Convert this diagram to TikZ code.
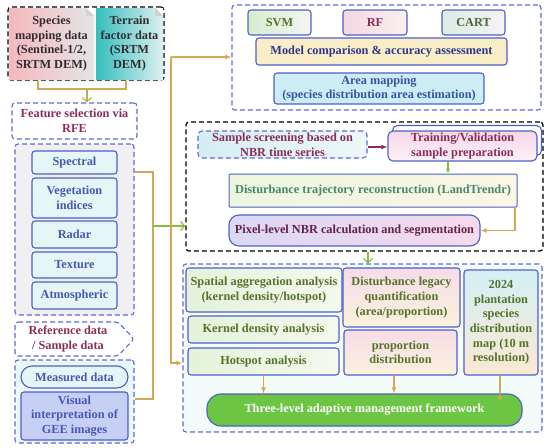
\documentclass[tikz,border=0pt]{standalone}
\usepackage{fontspec}
\setmainfont{Liberation Serif}
\usetikzlibrary{arrows.meta,calc}
\definecolor{bord}{RGB}{80,95,200}
\definecolor{dblue}{RGB}{95,105,215}
\definecolor{maroon}{RGB}{138,45,90}
\definecolor{tblue}{RGB}{70,88,180}
\definecolor{tgreen}{RGB}{85,115,45}
\definecolor{oline}{RGB}{210,170,85}
\definecolor{gline}{RGB}{135,190,60}
\definecolor{cyanbox}{RGB}{230,245,246}
\definecolor{grayfill}{RGB}{240,240,243}
\definecolor{lavbox}{RGB}{200,207,245}
\begin{document}
\begin{tikzpicture}[x=1pt,y=-1pt,
  txt/.style={align=center,font=\bfseries\fontsize{12.3}{14.6}\selectfont,inner sep=1pt},
  bx/.style={txt,draw=bord,line width=1.1pt,rounded corners=3pt},
  grp/.style={draw=dblue,line width=1.1pt,rounded corners=3pt,dash pattern=on 5pt off 3pt,inner sep=0pt},
  blk/.style={draw=black,line width=1.2pt,rounded corners=3pt,dash pattern=on 5pt off 3pt,inner sep=0pt},
  ol/.style={draw=oline,line width=1.2pt},
  oarr/.style={ol,-{Latex[length=6pt,width=5pt]}},
  garr/.style={draw=gline,line width=1.2pt,-{Straight Barb[length=4pt,width=9pt]}},
]
\useasboundingbox (0,0) rectangle (550,448);
\fill[white] (0,0) rectangle (550,448);

% ---------- groups ----------
\node[blk,fill=white,minimum width=156,minimum height=73] (datagrp) at (86,43.5) {};
\node[grp,fill=white,minimum width=125,minimum height=36,text=maroon,txt] (rfe) at (74.5,121) {Feature selection via\\RFE};
\node[grp,fill=grayfill,minimum width=119,minimum height=171] (featgrp) at (74.5,229.5) {};
\node[grp,fill={rgb,255:red,236;green,247;blue,250},minimum width=119,minimum height=83] (sampgrp) at (74.5,401.5) {};
\node[grp,fill=white,minimum width=309,minimum height=105] (topgrp) at (386.5,57.5) {};
\node[blk,fill=white,minimum width=357,minimum height=129] (blackgrp) at (364.5,186.5) {};
\node[grp,fill={rgb,255:red,243;green,251;blue,251},minimum width=359,minimum height=168] (botgrp) at (362.5,348) {};

% ---------- data boxes ----------
\node[txt,left color={rgb,255:red,245;green,185;blue,190},right color={rgb,255:red,228;green,228;blue,230},minimum width=85,minimum height=71,text={rgb,255:red,50;green,45;blue,50}] (species) at (51.5,43.5) {Species\\mapping data\\(Sentinel-1/2,\\SRTM DEM)};
\node[txt,left color={rgb,255:red,55;green,190;blue,190},right color={rgb,255:red,222;green,240;blue,240},minimum width=67,minimum height=71,text={rgb,255:red,50;green,45;blue,50}] (terrain) at (129.5,43.5) {Terrain\\factor data\\(SRTM\\DEM)};
\foreach \n in {species,terrain}{
  \fill[white] ($(\n.north east)+(-8,0)$) -- (\n.north east) -- ($(\n.north east)+(0,8)$) -- cycle;
  \fill[gray!35] ($(\n.north east)+(-8,0)$) -- ($(\n.north east)+(0,8)$) -- ($(\n.north east)+(-8,8)$) -- cycle;
}

% ---------- features ----------
\begin{scope}[every node/.style={bx,fill=cyanbox,text=tblue,minimum width=85}]
\node[minimum height=23] (spec) at (74.5,162.5) {Spectral};
\node[minimum height=40] (veg) at (74.5,198) {Vegetation\\indices};
\node[minimum height=27] (radar) at (74.5,234.5) {Radar};
\node[minimum height=26] (tex) at (74.5,265) {Texture};
\node[minimum height=27] (atm) at (74.5,295.5) {Atmospheric};
\end{scope}

% ---------- reference ----------
\draw[grp,fill=white] (15,322) -- (118,322) -- (134,339) -- (118,356) -- (15,356) -- cycle;
\node[txt,text=maroon] (ref) at (68,339) {Reference data\\/ Sample data};
\node[bx,fill=cyanbox,text=tblue,minimum width=107,minimum height=22,rounded corners=11pt] (meas) at (74.5,377) {Measured data};
\node[bx,fill=lavbox,text=tblue,minimum width=107,minimum height=48] (vis) at (74.5,416) {Visual\\interpretation of\\GEE images};

% ---------- top right ----------
\node[bx,left color={rgb,255:red,215;green,238;blue,205},right color={rgb,255:red,245;green,245;blue,245},text=tgreen,minimum width=63,minimum height=25] (svm) at (279.5,22.5) {SVM};
\node[bx,left color={rgb,255:red,245;green,215;blue,225},right color={rgb,255:red,250;green,240;blue,240},text=maroon,minimum width=64,minimum height=25] (rf) at (375,22.5) {RF};
\node[bx,left color={rgb,255:red,220;green,236;blue,228},right color={rgb,255:red,244;green,244;blue,244},text={rgb,255:red,80;green,100;blue,60},minimum width=63,minimum height=25] (cart) at (473.5,22.5) {CART};
\node[bx,fill={rgb,255:red,250;green,238;blue,200},text={rgb,255:red,45;green,55;blue,140},minimum width=251,minimum height=27] (model) at (381.5,51.5) {Model comparison \& accuracy assessment};
\node[bx,fill={rgb,255:red,205;green,236;blue,246},text={rgb,255:red,55;green,85;blue,160},minimum width=210,minimum height=31] (area) at (379,88.5) {Area mapping\\(species distribution area estimation)};

% ---------- middle ----------
\node[grp,txt,rounded corners=4pt,left color={rgb,255:red,212;green,238;blue,244},right color={rgb,255:red,238;green,248;blue,250},text=maroon,minimum width=169,minimum height=27] (screen) at (282.5,144.5) {Sample screening based on\\NBR time series};
\node[bx,rounded corners=5pt,fill=white,minimum width=149,minimum height=30] (trainbk) at (467,140.5) {};
\node[bx,rounded corners=5pt,top color={rgb,255:red,246;green,215;blue,230},bottom color={rgb,255:red,252;green,242;blue,248},text=maroon,minimum width=149,minimum height=30] (train) at (462.5,146) {Training/Validation\\sample preparation};
\node[bx,rounded corners=1pt,line width=1pt,left color={rgb,255:red,236;green,246;blue,222},right color={rgb,255:red,252;green,246;blue,230},text={rgb,255:red,70;green,135;blue,110},minimum width=288,minimum height=33] (dist) at (373,190.5) {Disturbance trajectory reconstruction (LandTrendr)};
\node[bx,rounded corners=10pt,left color={rgb,255:red,218;green,216;blue,246},right color={rgb,255:red,246;green,218;blue,236},text={rgb,255:red,100;green,35;blue,70},minimum width=251,minimum height=31] (pixel) at (354.5,230.5) {Pixel-level NBR calculation and segmentation};

% ---------- bottom ----------
\begin{scope}[every node/.style={bx,left color={rgb,255:red,228;green,243;blue,218},right color={rgb,255:red,244;green,249;blue,238},text=tgreen}]
\node[minimum width=156,minimum height=44] (spatial) at (264,290) {Spatial aggregation analysis\\(kernel density/hotspot)};
\node[minimum width=151,minimum height=27] (kernel) at (263.5,329.5) {Kernel density analysis};
\node[minimum width=151,minimum height=27] (hot) at (263.5,361.5) {Hotspot analysis};
\end{scope}
\begin{scope}[every node/.style={bx,top color={rgb,255:red,246;green,220;blue,232},bottom color={rgb,255:red,250;green,242;blue,220},text=tgreen}]
\node[minimum width=117,minimum height=59] (legacy) at (401.5,297.5) {Disturbance legacy\\quantification\\(area/proportion)};
\node[minimum width=113,minimum height=45] (prop) at (400.5,352.5) {proportion\\distribution};
\end{scope}
\node[bx,top color={rgb,255:red,212;green,240;blue,246},bottom color={rgb,255:red,250;green,232;blue,210},text=tgreen,minimum width=74,minimum height=105] (map) at (501,322.5) {2024\\plantation\\species\\distribution\\map (10 m\\resolution)};
\node[bx,rounded corners=14pt,fill={rgb,255:red,108;green,198;blue,68},text=white,minimum width=315,minimum height=32] (three) at (364.5,410) {Three-level adaptive management framework};

% ---------- connectors ----------
\coordinate (fL) at (38,89);
\coordinate (fR) at (126,89);
\coordinate (fM) at (87,89);
\draw[ol] (datagrp.south -| fL) -- (fL) -- (fR) -- (datagrp.south -| fR);
\draw[ol,-{Straight Barb[length=4pt,width=9pt]},draw=oline!70!gline] (fM) -- (fM |- rfe.north);

\coordinate (j1) at (153,172);
\coordinate (j2) at (153,399);
\coordinate (j3) at (153,226);
\draw[ol] (featgrp.east |- j1) -- (j1) -- (j2) -- (sampgrp.east |- j2);
\draw[garr] (j3) -- (blackgrp.west |- j3);

\coordinate (k1) at (171,57);
\coordinate (k2) at (171,363);
\draw[oarr] (k1) -- (topgrp.west |- k1);
\draw[oarr] (k1) -- (k2) -- (botgrp.west |- k2);

\draw[draw=maroon,line width=1.2pt,-{Latex[length=6pt,width=5pt]}] (screen.east |- 0,147) -- (train.west |- 0,147);
\coordinate (t1) at (448,0);
\draw[draw=gline,line width=1.2pt,-{Latex[length=5pt,width=5pt]}] (train.south -| t1) -- (dist.north -| t1);
\coordinate (d1) at (515,0);
\draw[oarr] (dist.south -| d1) |- (pixel.east);
\coordinate (b1) at (368,0);
\draw[garr] (blackgrp.south -| b1) -- (botgrp.north -| b1);

\coordinate (p1) at (394,0);
\coordinate (m1) at (500,0);
\draw[oarr] (hot.south) -- (hot.south |- three.north);
\draw[oarr] (prop.south -| p1) -- (three.north -| p1);
\draw[oarr] (map.south -| m1) -- (three.north -| m1) -- ++(0,0);
\end{tikzpicture}
\end{document}
